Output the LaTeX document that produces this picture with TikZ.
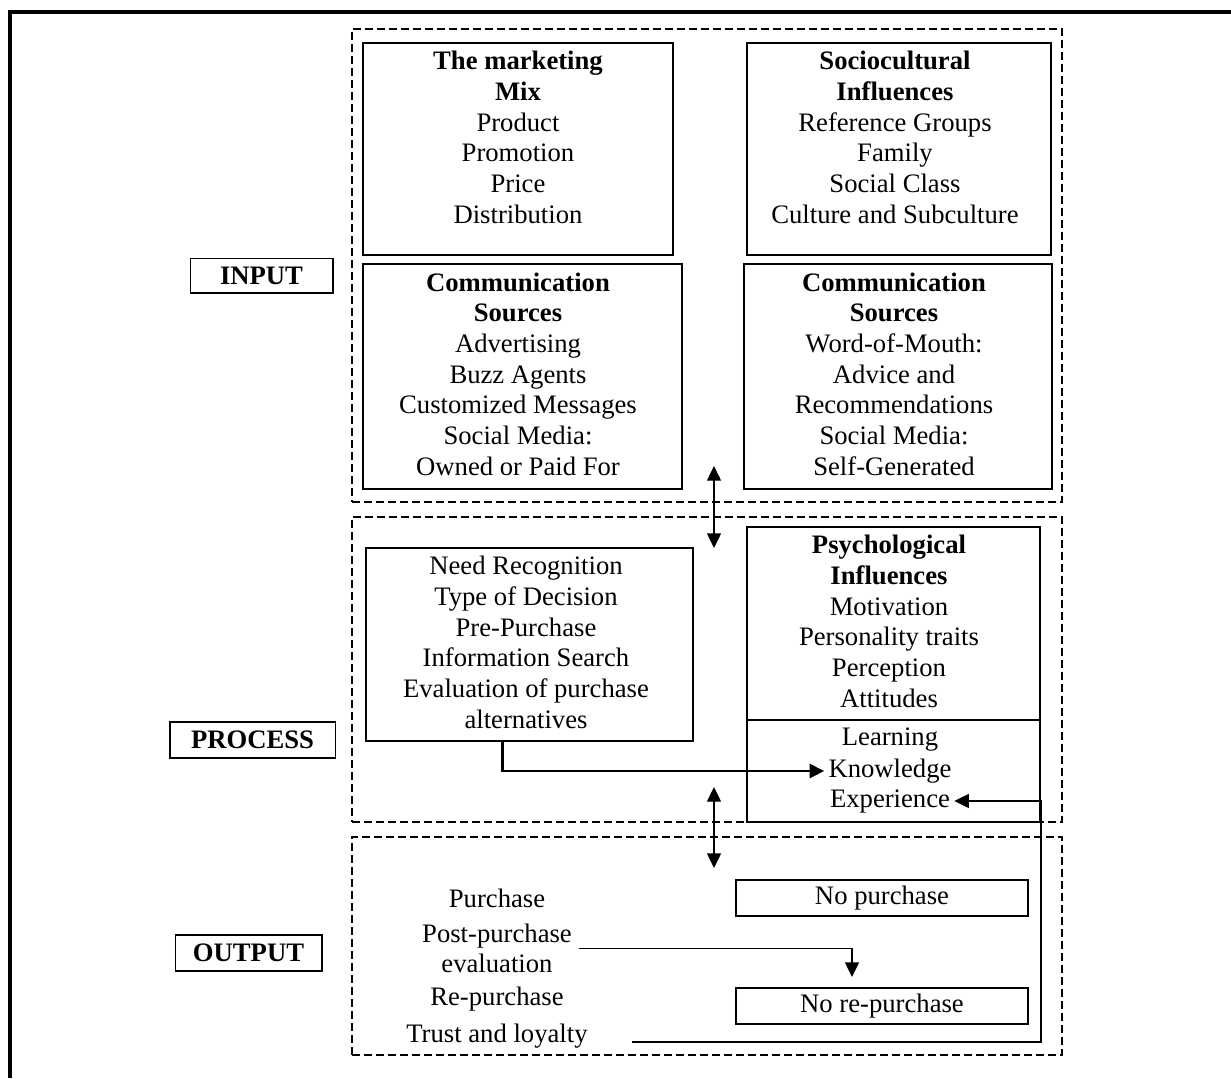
\documentclass[tikz,border=0pt]{standalone}
\usepackage{fontspec}
\setmainfont{Liberation Serif}
\usetikzlibrary{arrows.meta,fit,calc}

\begin{document}
\begin{tikzpicture}[x=0.75pt,y=-0.75pt,
  txt/.style={align=center,inner sep=0pt,font=\fontsize{20}{23}\selectfont},
  box/.style={draw,line width=1pt,inner sep=0pt},
  zone/.style={draw,line width=1.8pt,dash pattern=on 6pt off 3pt,inner sep=0pt},
  tag/.style={draw,line width=1pt,inner sep=0pt,font=\fontsize{20}{23}\selectfont\bfseries},
  tip/.style={-{Triangle[length=11pt,width=10.5pt]}},
  dbl/.style={{Triangle[length=11pt,width=10.5pt]}-{Triangle[length=11pt,width=10.5pt]},line width=1pt},
  arr/.style={tip,line width=1pt},
  flow/.style={tip,line width=2pt}]

\useasboundingbox (0,0) rectangle (1231,1078);

% frame
\draw[line width=3pt] (1231,11.5) -- (10,11.5) -- (10,1078);

% stage zones
\node[zone,fit={(352,29) (1062,502)}] (inzone) {};
\node[zone,fit={(352,517) (1062,822)}] (proczone) {};
\node[zone,fit={(352,837) (1062,1055)}] (outzone) {};

% stage tags
\node[tag,minimum width=107pt,minimum height=26pt] (tin) at (261.5,275.5) {INPUT};
\node[tag,minimum width=124pt,minimum height=27pt] (tproc) at (252.5,740) {PROCESS};
\node[tag,minimum width=110pt,minimum height=27pt] (tout) at (248.5,953) {OUTPUT};

% input boxes
\node[box,fit={(363,43) (673,255)}] (mix) {};
\node[box,fit={(747,43) (1051,255)}] (socio) {};
\node[box,fit={(363,264) (682,489)}] (commL) {};
\node[box,fit={(744,264) (1052,489)}] (commR) {};

\node[txt] (mixtxt) at (518,137.5) {\textbf{The marketing}\\\textbf{Mix}\\Product\\Promotion\\Price\\Distribution};
\node[txt] (sociotxt) at (895,137.5) {\textbf{Sociocultural}\\\textbf{Influences}\\Reference Groups\\Family\\Social Class\\Culture and Subculture};
\node[txt] (commLtxt) at (518,374) {\textbf{Communication}\\\textbf{Sources}\\Advertising\\Buzz Agents\\Customized Messages\\Social Media:\\Owned or Paid For};
\node[txt] (commRtxt) at (894,374) {\textbf{Communication}\\\textbf{Sources}\\Word-of-Mouth:\\Advice and\\Recommendations\\Social Media:\\Self-Generated};

% process boxes
\node[box,fit={(366,548) (693,741)}] (decision) {};
\node[box,fit={(747,527) (1040,720)}] (psych) {};
\node[box,fit={(747,720) (1040,822)}] (learn) {};

\node[txt] (dectxt) at (526,642.5) {Need Recognition\\Type of Decision\\Pre-Purchase\\Information Search\\Evaluation of purchase\\alternatives};
\node[txt] (psychtxt) at (889,621.5) {\textbf{Psychological}\\\textbf{Influences}\\Motivation\\Personality traits\\Perception\\Attitudes};
\node[txt] (learning) at (890,740) {Learning};
\node[txt,inner xsep=3pt] (know) at (890,771) {Knowledge};
\node[txt,inner xsep=3pt] (exp) at (890,801) {Experience};

% output items
\node[txt] (purchase) at (497,898) {Purchase};
\node[txt,inner xsep=5pt] (post) at (497,948.5) {Post-purchase\\evaluation};
\node[txt] (repur) at (497,999) {Re-purchase};
\node[txt] (trust) at (497,1036) {Trust and loyalty};

\node[box,fit={(736,880) (1028,916)}] (nopur) {};
\node[txt] at (nopur.center) (nopurtxt) {No purchase};
\node[box,fit={(736,988) (1028,1024)}] (norep) {};
\node[txt] at (norep.center) (noreptxt) {No re-purchase};

% connectors
\coordinate (up1) at (714,466);
\coordinate (dn1) at (714,548);
\coordinate (up2) at (714,787);
\coordinate (dn2) at (714,868);
\draw[dbl] (up1) -- (dn1);
\draw[dbl] (up2) -- (dn2);

\draw[flow] ($(decision.south west)+(137,0)$) |- (know.west);

\coordinate (postend) at (852,977);
\draw[arr] (post.east) -| (postend);

\coordinate (tr0) at (632,1042);
\coordinate (tr1) at (1041,1042);
\draw[arr] (tr0) -- (tr1) |- (exp.east);

\end{tikzpicture}
\end{document}
